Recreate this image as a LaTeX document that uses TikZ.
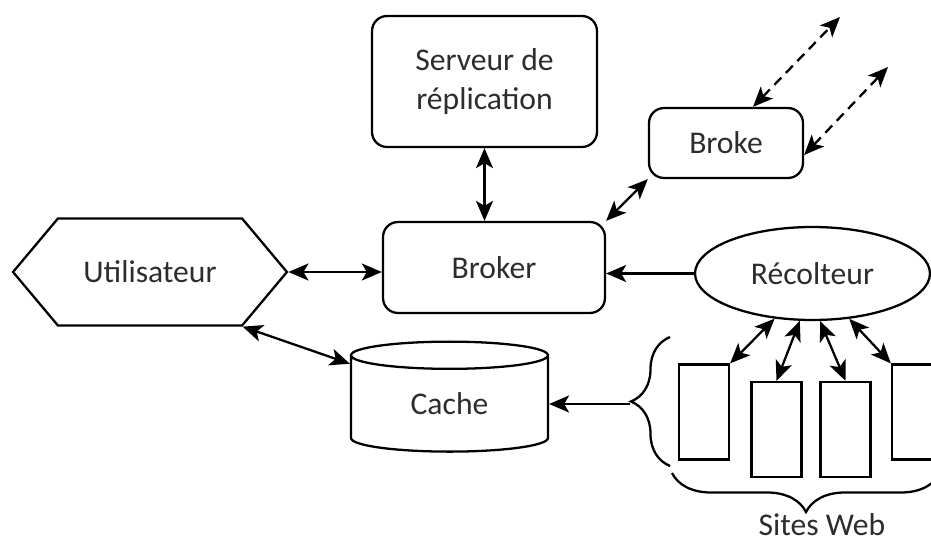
\documentclass[tikz,border=0pt]{standalone}
\usepackage{fontspec}
\setmainfont{Carlito}
\usetikzlibrary{shapes.geometric, shapes.symbols, arrows.meta, decorations.pathreplacing}
\definecolor{txt}{RGB}{45,45,45}
\tikzset{
	box/.style={draw, rounded corners=0.3cm, line width=1.3pt, inner sep=0pt, align=center},
	link/.style={line width=1.3pt},
	farlink/.style={line width=1.3pt, dash pattern=on 0.2cm off 0.13cm},
	sitebox/.style={draw, line width=1.3pt, inner sep=0pt, minimum width=1cm, minimum height=1.9cm},
	bigbrace/.style={line width=1.3pt, decorate, decoration={brace, amplitude=0.78cm}},
	>={Stealth[length=0.4cm, width=0.34cm, inset=0.1cm]}
}

\begin{document}
\begin{tikzpicture}[x=0.02cm, y=-0.02cm, every node/.style={text=txt, font=\fontsize{18}{22}\selectfont}]
	\useasboundingbox (0,0) rectangle (931,548);
	% nodes
	\node[box, minimum width=4.5cm, minimum height=2.62cm] (serveur) at (484.5,81.5) {Serveur de\\r\'eplication};
	\node[box, minimum width=4.44cm, minimum height=1.82cm] (broker) at (494,267.5) {Broker};
	\node[box, minimum width=3.08cm, minimum height=1.4cm] (broke) at (726,143) {Broke};
	\node[draw, line width=1.3pt, signal, signal to=west and east, signal pointer angle=100,
		inner sep=0pt, minimum width=5.48cm, minimum height=2.14cm] (util) at (150,272) {Utilisateur};
	\node[draw, line width=1.3pt, cylinder, shape border rotate=90, aspect=0.35,
		inner sep=0pt, minimum width=3.94cm, minimum height=2.2cm] (cache) at (449.5,404) {Cache};
	\node[draw, line width=1.3pt, ellipse, inner sep=0pt, minimum width=4.7cm, minimum height=1.86cm] (recolteur) at (812.5,273.5) {R\'ecolteur};
	\foreach \i/\x/\y in {1/704/412, 2/776.5/429.5, 3/845.5/429.5, 4/917/412}
		\node[sitebox] (site\i) at (\x,\y) {};
	\node (web) at (822,525) {Sites Web};
	\coordinate (ext1) at (840,17);
	\coordinate (ext2) at (888,67);
	\coordinate (bracetip) at (630,404);

	% braces
	\draw[bigbrace] (670,466) -- (670,337);
	\draw[bigbrace] (940,473) -- (672,473);

	% links
	\draw[link, <->] (serveur.south) -- (serveur.south |- broker.north);
	\draw[link, <->] (util.east) -- (util.east -| broker.west);
	\draw[link, <->] (util.south east) -- (cache.158);
	\draw[link, ->] (recolteur.west) -- (recolteur.west -| broker.east);
	\draw[link, <->] (broker.north east) -- (broke.south west);
	\draw[farlink, <->] ([xshift=0.54cm]broke.north) -- (ext1);
	\draw[farlink, <->] ([yshift=-0.24cm]broke.east) -- (ext2);
	\draw[link, ->] (bracetip) -- (bracetip -| cache.east);
	\foreach \a/\i/\anc in {-130/1/north east, -105/2/north, -81/3/north, -51/4/north west}
		\draw[link, <->] (recolteur.\a) -- (site\i.\anc);
\end{tikzpicture}
\end{document}
